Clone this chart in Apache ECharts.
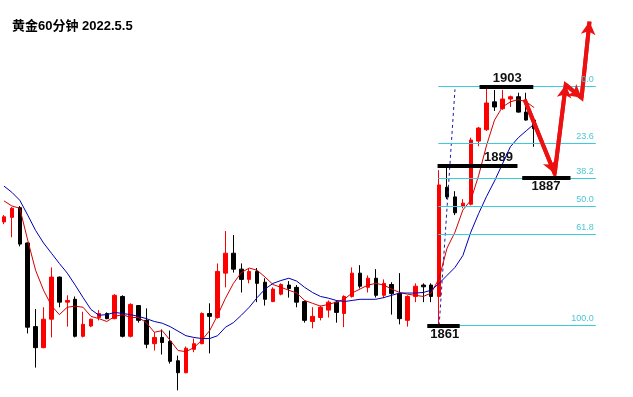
<!DOCTYPE html>
<html>
<head>
<meta charset="utf-8">
<script src="https://cdn.jsdelivr.net/npm/echarts@6/dist/echarts.min.js"></script>
<style>
  html, body { margin: 0; padding: 0; background: #fff; }
  #chart { width: 633px; height: 397px; }
</style>
</head>
<body>
<div id="chart"></div>
<script>
// 黄金 60分钟, 每根 [open, close, low, high]
const candles = [
  [1879.2, 1880.1, 1878.8, 1880.4],
  [1880.0, 1881.6, 1876.5, 1881.8], [1881.7, 1875.3, 1874.9, 1882.0], [1875.5, 1860.7, 1859.6, 1875.6],
  [1860.8, 1857.1, 1853.6, 1863.9], [1857.1, 1862.1, 1857.0, 1864.2], [1862.1, 1869.5, 1858.9, 1871.2],
  [1869.5, 1865.1, 1864.2, 1869.6], [1865.1, 1865.4, 1860.8, 1866.3], [1865.6, 1859.1, 1858.9, 1866.1],
  [1859.1, 1861.2, 1858.9, 1863.4], [1860.9, 1862.1, 1860.7, 1862.2], [1862.4, 1863.1, 1861.9, 1863.7],
  [1863.1, 1862.2, 1862.1, 1863.3], [1862.2, 1866.3, 1862.1, 1866.5], [1866.1, 1859.1, 1858.9, 1866.3],
  [1859.1, 1864.7, 1858.9, 1864.9], [1864.5, 1861.9, 1861.5, 1864.6], [1861.9, 1857.7, 1857.0, 1864.0],
  [1857.8, 1858.9, 1856.6, 1859.8], [1858.9, 1858.0, 1855.9, 1860.3], [1858.2, 1854.7, 1854.3, 1860.1],
  [1854.8, 1852.7, 1849.6, 1855.7], [1852.7, 1857.0, 1852.6, 1857.3], [1856.8, 1857.8, 1856.3, 1858.7],
  [1857.8, 1863.1, 1857.7, 1863.3], [1863.1, 1862.6, 1856.1, 1864.9], [1862.4, 1870.5, 1862.2, 1871.9],
  [1870.2, 1873.7, 1867.7, 1877.6], [1873.7, 1870.9, 1870.3, 1876.9], [1870.9, 1869.1, 1866.8, 1871.9],
  [1869.1, 1870.5, 1868.4, 1871.1], [1870.5, 1868.4, 1865.1, 1871.1], [1868.6, 1865.6, 1864.5, 1869.3],
  [1865.2, 1867.4, 1865.1, 1867.7], [1866.5, 1868.2, 1866.3, 1868.4], [1868.1, 1867.5, 1865.9, 1868.8],
  [1867.7, 1865.1, 1864.2, 1868.1], [1865.2, 1861.9, 1861.5, 1865.4], [1861.7, 1862.6, 1860.5, 1864.2],
  [1862.4, 1864.2, 1861.9, 1864.5], [1863.7, 1865.1, 1862.4, 1865.4], [1865.1, 1863.3, 1861.5, 1865.4],
  [1863.1, 1866.1, 1860.7, 1866.3], [1866.1, 1870.2, 1865.9, 1871.2], [1870.2, 1867.9, 1867.5, 1871.6],
  [1867.7, 1869.3, 1866.8, 1869.8], [1869.3, 1866.3, 1865.9, 1870.9], [1866.3, 1868.4, 1865.8, 1869.1],
  [1868.2, 1866.6, 1862.9, 1868.6], [1866.6, 1862.2, 1861.2, 1870.2], [1861.9, 1866.1, 1860.8, 1866.3],
  [1866.1, 1867.9, 1865.1, 1868.4], [1868.1, 1867.8, 1865.1, 1868.4], [1868.1, 1866.1, 1865.1, 1868.4],
  [1866.1, 1885.7, 1861.0, 1888.3], [1885.3, 1883.6, 1883.2, 1888.7], [1883.6, 1880.8, 1880.4, 1884.6],
  [1882.0, 1882.5, 1881.6, 1883.2], [1882.3, 1893.6, 1882.1, 1894.0], [1893.4, 1895.7, 1892.5, 1895.9],
  [1895.4, 1900.1, 1895.2, 1902.6], [1900.3, 1899.4, 1898.7, 1902.4], [1899.1, 1900.8, 1898.9, 1902.4],
  [1900.8, 1901.2, 1899.4, 1901.4], [1901.2, 1898.5, 1898.4, 1901.9], [1898.5, 1897.1, 1897.0, 1901.9],
  [1897.1, 1895.6, 1892.4, 1897.3]
]

// 均线 (红: 快线, 蓝: 慢线)
const maFast = [
  1882.9, 1882.0, 1881.6, 1876.0, 1870.7, 1867.2, 1864.5, 1862.9, 1864.2, 1864.4, 1864.2,
  1862.6, 1862.2, 1861.7, 1862.6, 1862.9, 1862.4, 1862.4, 1861.5, 1859.8, 1860.1,
  1858.4, 1856.6, 1856.4, 1857.1, 1858.4, 1860.1, 1862.8, 1865.8, 1868.4, 1870.3,
  1871.1, 1870.7, 1869.5, 1868.2, 1867.7, 1867.2, 1866.7, 1865.4, 1864.9, 1864.4,
  1864.7, 1865.1, 1865.6, 1866.7, 1867.4, 1868.1, 1868.4, 1868.1, 1867.4, 1866.8,
  1866.5, 1866.3, 1866.1, 1866.7, 1869.3, 1874.6, 1877.4, 1881.3, 1883.0, 1887.4,
  1892.7, 1897.1, 1899.4, 1900.3, 1900.7, 1900.3, 1899.3
]
const maSlow = [
  1885.5, 1884.4, 1883.0, 1880.4, 1877.7, 1875.5, 1873.7, 1871.9, 1870.2, 1868.1, 1865.9,
  1863.8, 1862.8, 1862.9, 1863.3, 1863.1, 1862.9, 1862.6, 1862.2, 1861.7, 1861.4,
  1860.8, 1860.0, 1859.2, 1858.9, 1858.7, 1858.7, 1859.2, 1860.7, 1861.5, 1862.8,
  1864.2, 1865.9, 1867.4, 1868.4, 1868.9, 1869.3, 1868.8, 1867.7, 1866.8, 1866.1,
  1865.8, 1865.4, 1865.2, 1865.4, 1865.6, 1865.6, 1865.6, 1865.9, 1866.3, 1866.7,
  1866.7, 1866.7, 1866.8, 1867.2, 1868.4, 1869.8, 1871.2, 1873.3, 1877.4, 1880.7,
  1883.7, 1886.4, 1889.4, 1892.4, 1894.0, 1895.2, 1896.4
]

// 斐波那契回撤 1861 -> 1903
const fibHigh = 1903
const fibLow = 1861
const fibRatios = [0, 23.6, 38.2, 50, 61.8, 100]
const fibSpan = [54.9, 74.8]              // bar index from / to
const fibAnchor = [[55, 1861], [57, 1902.5]]

// 关键价位: [price, from bar, to bar, label bar]
const keyLevels = [
  [1903, 60.1, 66.9, 63.6],
  [1889, 54.8, 64.9, 62.5],
  [1887, 65.5, 71.6, 68.5],
  [1861, 53.5, 57.6, 55.7]
]
const keyLabelSide = ['top', 'top', 'bottom', 'bottom']

// 走势预判箭头 [bar, price]
const forecast = [[65.8, 1900.7], [69.6, 1887.7], [71, 1903.3], [73, 1901], [74, 1914.4]]

const emptyBars = 12

const barCount = candles.length + emptyBars
const categories = []
for (let i = 0; i < barCount; i++) categories.push(String(i))

const chart = echarts.init(document.getElementById('chart'))

const fibLines = fibRatios.map(r => {
  const price = fibHigh - (fibHigh - fibLow) * r / 100
  return [
    { coord: [fibSpan[0], price], label: { formatter: r.toFixed(1) } },
    { coord: [fibSpan[1], price] }
  ]
})

const levelLines = keyLevels.map(l => [{ coord: [l[1], l[0]] }, { coord: [l[2], l[0]] }])

const arrowSegs = []
for (let i = 1; i < forecast.length; i++) {
  arrowSegs.push([{ coord: forecast[i - 1] }, { coord: forecast[i] }])
}

const option = {
  animation: false,
  backgroundColor: '#fff',
  title: {
    text: '黄金60分钟 2022.5.5',
    left: 12,
    top: 20,
    padding: 0,
    textStyle: {
      fontSize: 13,
      fontWeight: 'bold',
      color: '#000',
      fontFamily: 'Arial, "Liberation Sans", "Noto Sans CJK SC", sans-serif'
    }
  },
  grid: {
    left: -5.5,
    top: 0,
    width: barCount * 8,
    height: 397
  },
  xAxis: [
    {
      type: 'category',
      data: categories,
      show: false
    },
    {
      type: 'value',
      min: -0.5,
      max: barCount - 0.5,
      show: false
    }
  ],
  yAxis: {
    type: 'value',
    min: 1848.43,
    max: 1918.2,
    show: false,
    splitLine: { show: false }
  },
  series: [
    {
      name: 'fib',
      type: 'line',
      xAxisIndex: 1,
      data: fibAnchor,
      symbol: 'none',
      lineStyle: { color: '#1a1aa8', width: 1, type: [3, 3] },
      markLine: {
        silent: true,
        symbol: ['none', 'none'],
        lineStyle: { color: '#3ccbdc', width: 1, type: 'solid', opacity: 1 },
        label: {
          show: true,
          position: 'insideEndTop',
          distance: 2,
          color: '#4cc6d6',
          fontSize: 9,
          fontFamily: 'Arial, "Liberation Sans", sans-serif'
        },
        emphasis: { disabled: true },
        data: fibLines
      }
    },
    {
      name: 'K',
      type: 'candlestick',
      data: candles.map(c => [c[0], c[1], c[2], c[3]]),
      barWidth: 4,
      itemStyle: {
        color: '#ff0000',
        color0: '#000000',
        borderColor: '#ff0000',
        borderColor0: '#000000',
        borderWidth: 1
      }
    },
    {
      name: 'MA fast',
      type: 'line',
      data: maFast,
      symbol: 'none',
      lineStyle: { color: '#d40000', width: 1 }
    },
    {
      name: 'MA slow',
      type: 'line',
      data: maSlow,
      symbol: 'none',
      lineStyle: { color: '#0000b4', width: 1 }
    },
    {
      name: 'levels',
      type: 'scatter',
      xAxisIndex: 1,
      symbolSize: 0,
      itemStyle: { opacity: 1 },
      data: keyLevels.map((l, i) => ({
        value: [l[3], l[0]],
        label: { position: keyLabelSide[i] }
      })),
      label: {
        show: true,
        distance: 2,
        formatter: p => String(p.value[1]),
        color: '#111',
        fontSize: 13,
        fontWeight: 'bold',
        fontFamily: 'Arial, "Liberation Sans", sans-serif'
      },
      markLine: {
        silent: true,
        symbol: ['none', 'none'],
        lineStyle: { color: '#000', width: 4, type: 'solid', opacity: 1 },
        label: { show: false },
        emphasis: { disabled: true },
        data: levelLines
      }
    },
    {
      name: 'forecast',
      type: 'line',
      xAxisIndex: 1,
      data: forecast,
      symbol: 'none',
      lineStyle: { color: '#ec1010', width: 4, join: 'miter' },
      markLine: {
        silent: true,
        symbol: ['none', 'arrow'],
        symbolSize: [11, 13],
        lineStyle: { color: '#ec1010', width: 4, type: 'solid', opacity: 1 },
        label: { show: false },
        emphasis: { disabled: true },
        data: arrowSegs
      }
    }
  ]
}

chart.setOption(option)
</script>
</body>
</html>
